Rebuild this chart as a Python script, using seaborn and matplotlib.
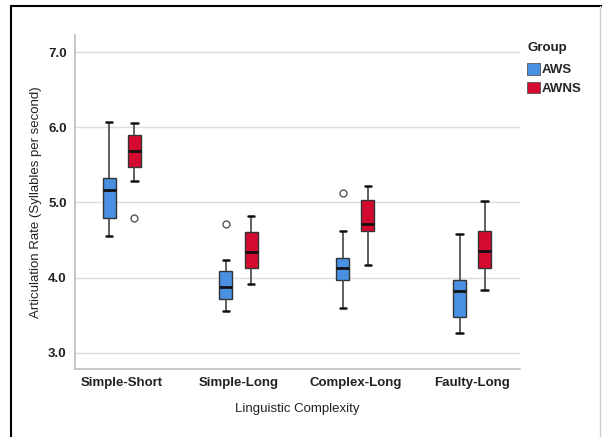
import numpy as np
import pandas as pd
import matplotlib
matplotlib.use("Agg")
import matplotlib.pyplot as plt
import seaborn as sns
from matplotlib.lines import Line2D
from matplotlib.patches import Patch

# five-number summaries: whisker low, Q1, median, Q3, whisker high
categories = ["Simple-Short", "Simple-Long", "Complex-Long", "Faulty-Long"]
groups = ["AWS", "AWNS"]

aws_summary = [
    [4.56, 4.79, 5.17, 5.33, 6.07],
    [3.56, 3.72, 3.87, 4.09, 4.24],
    [3.59, 3.97, 4.13, 4.26, 4.62],
    [3.27, 3.48, 3.82, 3.97, 4.58],
]
awns_summary = [
    [5.29, 5.47, 5.68, 5.90, 6.05],
    [3.91, 4.13, 4.34, 4.61, 4.82],
    [4.17, 4.62, 4.71, 5.03, 5.22],
    [3.84, 4.13, 4.36, 4.62, 5.02],
]
# outliers (circles)
aws_outliers = [[], [4.71], [5.12], []]
awns_outliers = [[4.79], [], [], []]

# each summary value is repeated 4 times so the quartiles stay put when an outlier is added
rows = []
for grp, summ, outs in [("AWS", aws_summary, aws_outliers), ("AWNS", awns_summary, awns_outliers)]:
    for cat, s, o in zip(categories, summ, outs):
        for v in list(np.repeat(s, 4)) + o:
            rows.append({"Complexity": cat, "Group": grp, "Rate": v})
df = pd.DataFrame(rows)

palette = {"AWS": "#4A90E2", "AWNS": "#D40A30"}

sns.set_style("white")
plt.rcParams["font.family"] = ["Liberation Sans", "DejaVu Sans"]

fig = plt.figure(figsize=(6.02, 4.37), dpi=100)
ax = fig.add_axes([0.1246, 0.1556, 0.7392, 0.7643])

for yv in [3.0, 4.0, 5.0, 6.0, 7.0]:
    ax.axhline(yv, color="#dcdcdc", lw=1.0, zorder=0)

sns.boxplot(
    data=df, x="Complexity", y="Rate", hue="Group",
    order=categories, hue_order=groups, palette=palette, saturation=1,
    width=0.43, gap=0.48, ax=ax, legend=False,
    linecolor="#333333", linewidth=1.0,
    whiskerprops={"color": "#444444", "linewidth": 1.2},
    capprops={"color": "#111111", "linewidth": 1.8},
    medianprops={"color": "#111111", "linewidth": 2.0},
    flierprops={"marker": "o", "markersize": 5, "markerfacecolor": "white",
                "markeredgecolor": "#555555", "markeredgewidth": 1.0},
)

ax.set_xlim(-0.4, 3.41)
ax.set_ylim(2.785, 7.226)
ax.set_yticks([3.0, 4.0, 5.0, 6.0, 7.0])
ax.set_yticklabels(["3.0", "4.0", "5.0", "6.0", "7.0"], fontsize=9.5, fontweight="bold", color="#222222")
ax.set_xticks(range(len(categories)))
ax.set_xticklabels(categories, fontsize=9.5, fontweight="bold", color="#222222")
ax.tick_params(axis="both", length=0, pad=6)

for side in ["top", "right"]:
    ax.spines[side].set_visible(False)
for side in ["left", "bottom"]:
    ax.spines[side].set_color("#bdbdbd")
    ax.spines[side].set_linewidth(1.2)

ax.set_xlabel("Linguistic Complexity", fontsize=9.5, color="#222222", labelpad=10)
ax.set_ylabel("Articulation Rate (Syllables per second)", fontsize=9.5, color="#222222", labelpad=4)

# legend: title drawn separately so the gap to the entries matches
fig.text(528 / 602, 1 - 48 / 437, "Group", fontsize=9.5, fontweight="bold",
         color="#222222", ha="left", va="center")
handles = [Patch(facecolor=palette[g], edgecolor="#555555", linewidth=0.6) for g in groups]
leg = fig.legend(handles, groups, loc="upper left",
                 bbox_to_anchor=(0.855, 1 - 51 / 437), frameon=False,
                 fontsize=9.5, handlelength=1.0, handleheight=1.0,
                 handletextpad=0.15, labelspacing=0.4)
for t in leg.get_texts():
    t.set_fontweight("bold")

# picture frame
fig.add_artist(Line2D([11 / 602, 11 / 602], [0, 1 - 6 / 437], color="black", lw=1.5, transform=fig.transFigure))
fig.add_artist(Line2D([11 / 602, 1], [1 - 6 / 437, 1 - 6 / 437], color="black", lw=1.5, transform=fig.transFigure))
fig.add_artist(Line2D([600 / 602, 600 / 602], [0, 1 - 6 / 437], color="#cccccc", lw=1.0, transform=fig.transFigure))

fig.savefig("out.png", dpi=100)
